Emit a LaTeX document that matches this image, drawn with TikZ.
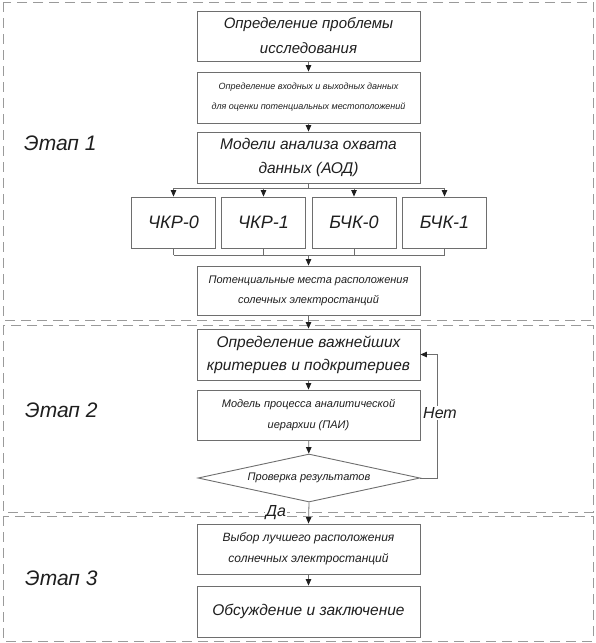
\documentclass[tikz,border=0pt]{standalone}
\usepackage{fontspec}
\setmainfont{Liberation Sans}
\usetikzlibrary{arrows.meta,shapes.geometric}
\definecolor{boxline}{HTML}{6E6E6E}
\definecolor{frameline}{HTML}{9A9A9A}
\definecolor{txt}{HTML}{1E1E1E}
\newcommand{\fsz}[2]{\fontsize{#1}{#2}\selectfont}
\tikzset{
  box/.style={draw=boxline, line width=0.9pt, rectangle, minimum width=223pt, minimum height=50pt, inner sep=0pt, align=center, text=txt, font=\itshape},
  qbox/.style={box, minimum width=84pt, minimum height=51pt},
  dia/.style={draw=boxline, line width=0.9pt, diamond, aspect=4.625, minimum width=222pt, minimum height=48pt, inner sep=0pt, align=center, text=txt, font=\itshape\fsz{11}{13}},
  frame/.style={draw=frameline, line width=0.9pt, dash pattern=on 10pt off 6pt},
  conn/.style={draw=boxline, line width=0.8pt},
  arr/.style={conn, -{Triangle[length=6.5pt,width=5.5pt,color=txt]}},
  stage/.style={anchor=west, text=txt, font=\itshape\fsz{21}{26}, inner sep=0pt},
  lbl/.style={fill=white, text=txt, font=\itshape\fsz{16}{18}, inner sep=1pt}
}
\begin{document}
\begin{tikzpicture}[x=1pt,y=-1pt]
\useasboundingbox (0,0) rectangle (596,643);
% frames
\draw[frame] (3,2) rectangle (593,320);
\draw[frame] (3,325) rectangle (593,512);
\draw[frame] (3,516) rectangle (593,641);
% stage labels
\node[stage] (s1) at (24,143) {Этап 1};
\node[stage] (s2) at (25,410) {Этап 2};
\node[stage] (s3) at (25,578) {Этап 3};
% stage 1
\node[box, font=\itshape\fsz{15}{25}] (A) at (308.5,36) {Определение проблемы\\исследования};
\node[box, minimum height=51pt, font=\itshape\fsz{9}{20}] (B) at (308.5,97.5) {Определение входных и выходных данных\\для оценки потенциальных местоположений};
\node[box, minimum height=51pt, font=\itshape\fsz{15.5}{24}] (C) at (308.5,157.5) {Модели анализа охвата\\данных (АОД)};
\node[qbox, font=\itshape\fsz{18}{20}] (q1) at (173.5,222.5) {ЧКР-0};
\node[qbox, font=\itshape\fsz{18}{20}] (q2) at (263.5,222.5) {ЧКР-1};
\node[qbox, font=\itshape\fsz{18}{20}] (q3) at (354,222.5) {БЧК-0};
\node[qbox, font=\itshape\fsz{18}{20}] (q4) at (444.5,222.5) {БЧК-1};
\node[box, minimum height=49pt, font=\itshape\fsz{11}{20}] (F) at (308.5,290.5) {Потенциальные места расположения\\солечных электростанций};
% stage 2
\node[box, minimum height=51pt, font=\itshape\fsz{15.5}{23}] (D) at (308.5,354.5) {Определение важнейших\\критериев и подкритериев};
\node[box, font=\itshape\fsz{11}{21}] (E) at (308.5,415) {Модель процесса аналитической\\иерархии (ПАИ)};
\node[dia] (G0) at (309,478) {Проверка результатов};
% stage 3
\node[box, font=\itshape\fsz{12}{21}] (G) at (308.5,549) {Выбор лучшего расположения\\солнечных электростанций};
\node[box, minimum height=51pt, font=\itshape\fsz{15.5}{20}] (H) at (308.5,611.5) {Обсуждение и заключение};
% connectors
\draw[arr] (A) -- (B);
\draw[arr] (B) -- (C);
\coordinate (bt) at (308.5,188);
\coordinate (bb) at (308.5,255);
\draw[conn] (C.south) -- (bt);
\draw[conn] (bt -| q1) -- (bt -| q4);
\draw[arr] (bt -| q1) -- (q1.north);
\draw[arr] (bt -| q2) -- (q2.north);
\draw[arr] (bt -| q3) -- (q3.north);
\draw[arr] (bt -| q4) -- (q4.north);
\draw[conn] (q1.south) -- (bb -| q1);
\draw[conn] (q2.south) -- (bb -| q2);
\draw[conn] (q3.south) -- (bb -| q3);
\draw[conn] (q4.south) -- (bb -| q4);
\draw[conn] (bb -| q1) -- (bb -| q4);
\draw[arr] (bb) -- (F.north);
\draw[arr] (F) -- (D);
\draw[arr] (D) -- (E);
\draw[arr] (E) -- (G0);
\coordinate (lp) at (437,478);
\draw[arr] (G0.east) -- (lp) |- (D.east);
\node[lbl] (no) at (440,413) {Нет};
\draw[arr] (G0.south) -- (G.north);
\node[lbl] (yes) at (276,513) {Да};
\draw[arr] (G) -- (H);
\end{tikzpicture}
\end{document}
